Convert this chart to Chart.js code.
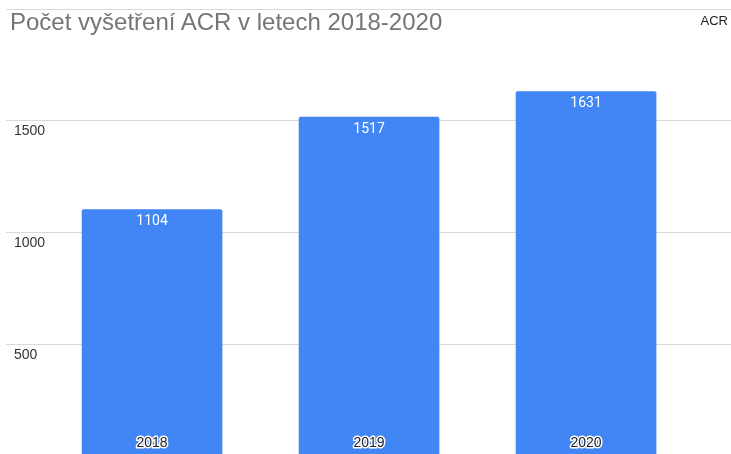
<!DOCTYPE html>
<html>
<head>
<meta charset="utf-8">
<script src="https://cdn.jsdelivr.net/npm/chart.js@4"></script>
<style>
  body { margin: 0; background: #fff; }
  #wrap { position: relative; width: 731px; height: 454px; }
  #title { position: absolute; left: 10px; top: 8px; font: 24px "Liberation Sans", Arial, sans-serif; color: #757575; white-space: nowrap; }
  #legend { position: absolute; right: 3px; top: 13px; font: 13px "Liberation Sans", Arial, sans-serif; color: #222; }
</style>
</head>
<body>
<div id="wrap">
  <canvas id="myChart" width="731" height="454"></canvas>
  <div id="title">Počet vyšetření ACR v letech 2018-2020</div>
  <div id="legend">ACR</div>
</div>
<script>
const years = [2018, 2019, 2020]
const pocty = [1104, 1517, 1631]
const yTicks = [500, 1000, 1500, 2000]
const seriesName = 'ACR'

// popisky hodnot nahore v sloupci a roky dole
const barLabels = {
    id: 'barLabels',
    afterDatasetsDraw(chart) {
        const ctx = chart.ctx
        const meta = chart.getDatasetMeta(0)
        ctx.save()
        ctx.textAlign = 'center'
        ctx.textBaseline = 'middle'
        meta.data.forEach((bar, i) => {
            ctx.font = '14px Roboto, "Liberation Sans", sans-serif'
            ctx.fillStyle = '#fff'
            ctx.fillText(String(pocty[i]), bar.x, bar.y + 12)

            ctx.font = '14px "Liberation Sans", Arial, sans-serif'
            ctx.lineWidth = 3
            ctx.strokeStyle = '#fff'
            ctx.lineJoin = 'round'
            ctx.strokeText(String(years[i]), bar.x, 443)
            ctx.fillStyle = '#222'
            ctx.fillText(String(years[i]), bar.x, 443)
        })
        ctx.restore()
    }
}

new Chart(document.getElementById('myChart'), {
    type: 'bar',
    data: {
        datasets: [{
            label: seriesName,
            data: years.map((y, i) => ({ x: y, y: pocty[i] })),
            backgroundColor: '#4285F4',
            barThickness: 140,
            borderRadius: { topLeft: 2, topRight: 2 },
            borderSkipped: 'bottom'
        }]
    },
    options: {
        responsive: false,
        animation: false,
        layout: { padding: { left: 6, right: 0, top: 9, bottom: 0 } },
        plugins: {
            legend: { display: false },
            tooltip: { enabled: false }
        },
        scales: {
            x: {
                type: 'linear',
                display: false,
                offset: false,
                min: 2017.327,
                max: 2020.668
            },
            y: {
                min: 13,
                max: 2000,
                border: { display: false },
                grid: { color: '#d9d9d9', drawTicks: false },
                afterBuildTicks: scale => { scale.ticks = yTicks.map(v => ({ value: v })) },
                afterFit: scale => {
                    scale.width = 0
                    scale.paddingTop = 0
                    scale.paddingBottom = 0
                },
                ticks: {
                    mirror: true,
                    padding: 8,
                    labelOffset: 10,
                    color: '#333',
                    font: { family: '"Liberation Sans", Arial, sans-serif', size: 14 },
                    callback: v => v === 2000 ? '' : v
                }
            }
        }
    },
    plugins: [barLabels]
})
</script>
</body>
</html>
